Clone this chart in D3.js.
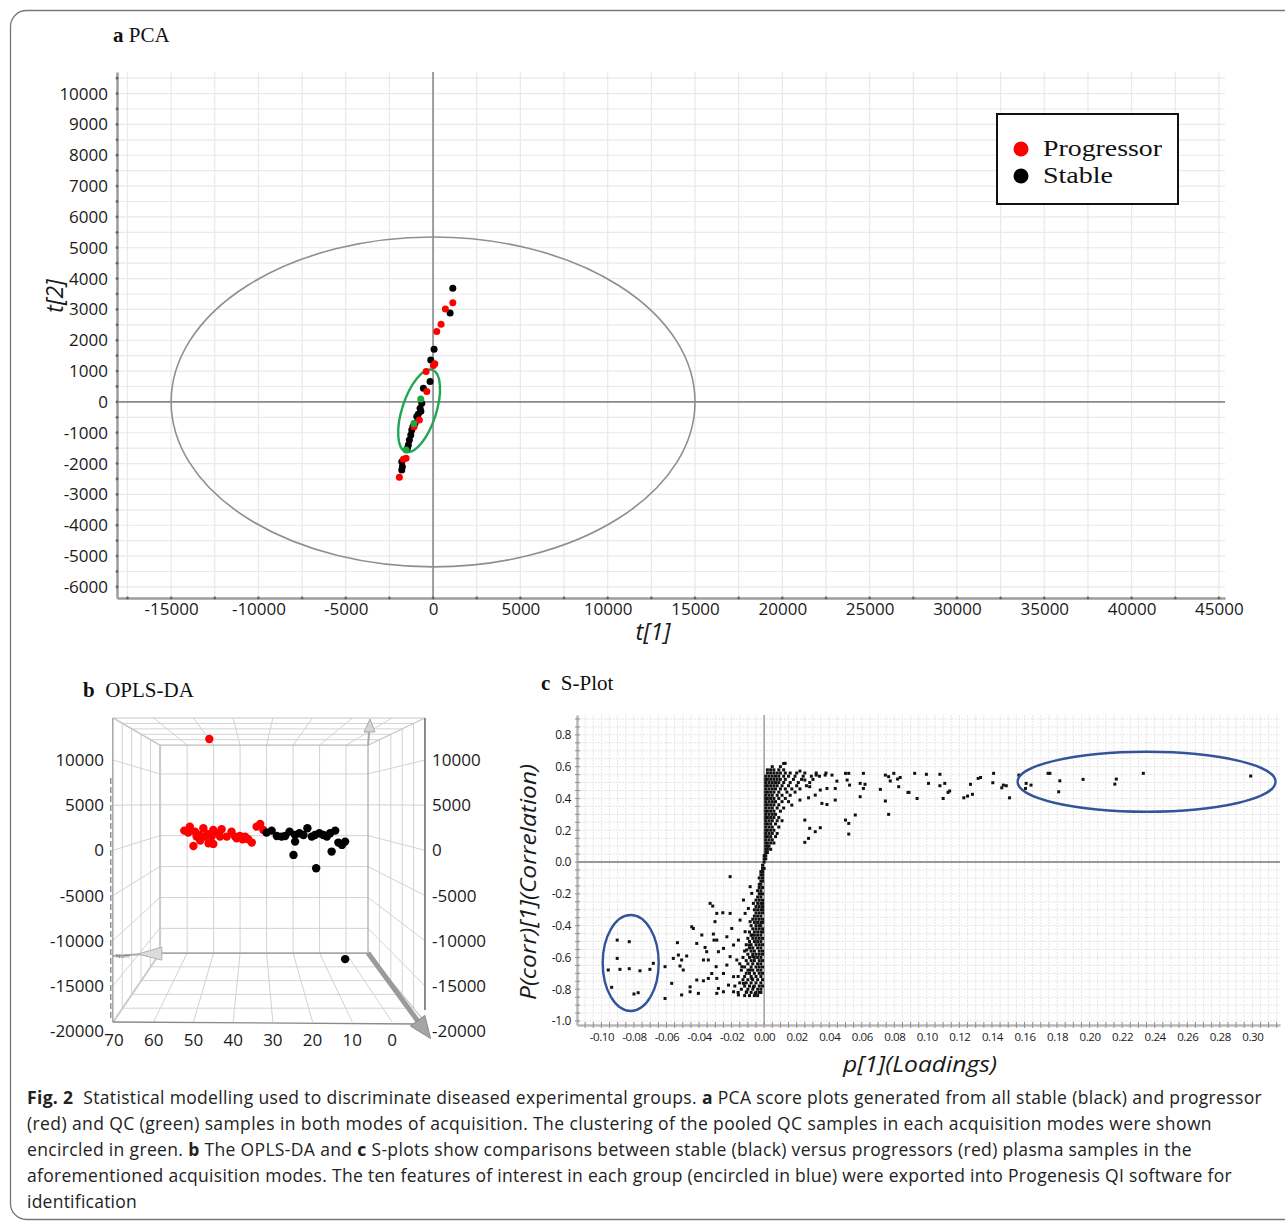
<!DOCTYPE html>
<html>
<head>
<meta charset="utf-8">
<script src="https://cdn.jsdelivr.net/npm/d3@7"></script>
<style>
  body { margin: 0; background: #fff; }
  svg { display: block; }
</style>
</head>
<body>
<div id="fig"></div>
<script>

// ---------------- data : panel a (PCA scores, t[1] / t[2])
const pcaXTicks = [-15000, -10000, -5000, 0, 5000, 10000, 15000, 20000, 25000, 30000, 35000, 40000, 45000];
const pcaYTicks = [-6000, -5000, -4000, -3000, -2000, -1000, 0, 1000, 2000, 3000, 4000, 5000, 6000, 7000, 8000, 9000, 10000];
const pcaStable = [[1130,3690],[975,2880],[57,1710],[-132,1360],[-172,660],[-555,445],[-647,-42],[-745,-205],
  [-700,-300],[-850,-400],[-934,-477],[-1031,-692],[-1150,-800],[-1220,-909],[-1277,-1071],[-1357,-1234],
  [-1415,-1396],[-1472,-1503],[-1793,-1938],[-1758,-2100],[-1793,-2208]];
const pcaProgressor = [[1130,3220],[705,3010],[458,2520],[212,2280],[100,1240],[17,1180],[-400,985],[-360,335],
  [-785,-585],[-1088,-802],[-1701,-1860],[-1546,-1828],[-1930,-2445]];
const pcaQC = [[-705,97],[-1100,-700],[-1546,-1558]];
const pcaHotelling = [15000, 5350];          // semi axes of the T2 ellipse
const qcCentre = [-800, -290];               // centre of the green QC ellipse
const legendItems = [["Progressor", "#ff0000"], ["Stable", "#000000"]];

// ---------------- data : panel b (OPLS-DA 3D view)
const oplsXTicks = [70, 60, 50, 40, 30, 20, 10, 0];
const oplsYTicks = [10000, 5000, 0, -5000, -10000, -15000, -20000];
const oplsProgressor = [[52.3,2183],[50.9,2626],[49.6,2072],[48.5,1705],[47.5,2443],[46.5,1816],[45.0,2258],
  [43.7,1889],[42.9,2332],[41.6,1521],[40.4,2072],[39.1,1336],[38.3,1594],[37.0,1521],[36.2,1226],[35.3,857],
  [34.1,2626],[33.2,2922],[32.4,2258],[50.0,488],[48.3,1078],[46.2,783],[45.0,710],[47.1,1521],[43.3,1521],
  [39.5,1521],[37.6,1226],[51.3,1963],[49.2,1521],[45.4,1521],[46.0,12320]];
const oplsStable = [[31.6,1963],[30.3,2183],[29.0,1594],[27.8,1521],[26.9,1594],[25.8,2072],[24.4,1705],
  [23.3,1889],[22.3,1705],[21.3,2443],[20.2,1521],[19.4,1705],[18.3,1889],[17.3,1705],[16.4,1521],[15.6,1889],
  [14.3,2183],[13.5,857],[12.6,599],[11.8,967],[24.8,-507],[24.4,967],[19.1,-1982],[15.2,-138],[11.8,-12045]];

// ---------------- data : panel c (S-plot, p[1] / p(corr)[1])
const sXTicks = [-0.10,-0.08,-0.06,-0.04,-0.02,0.00,0.02,0.04,0.06,0.08,0.10,0.12,0.14,0.16,0.18,0.20,0.22,0.24,0.26,0.28,0.30];
const sYTicks = [-1.0,-0.8,-0.6,-0.4,-0.2,0.0,0.2,0.4,0.6,0.8];
const sSparse = [
  [0.0129,0.621],[0.022,0.572],[0.025,0.516],[0.028,0.474],[0.032,0.547],[0.0375,0.547],[0.0417,0.547],[0.0447,0.509],
  [0.050,0.558],[0.052,0.558],[0.051,0.516],[0.0525,0.484],[0.0437,0.463],[0.0386,0.463],[0.0345,0.453],[0.0314,0.421],
  [0.0273,0.404],[0.022,0.390],[0.017,0.358],[0.0355,0.369],[0.0386,0.362],[0.0437,0.390],[0.061,0.558],[0.059,0.495],
  [0.062,0.489],[0.061,0.463],[0.059,0.411],[0.0714,0.457],[0.0745,0.547],[0.0765,0.537],[0.0775,0.510],[0.082,0.522],
  [0.0827,0.474],[0.0745,0.384],[0.0765,0.300],[0.025,0.264],[0.028,0.212],[0.0345,0.216],[0.0314,0.191],[0.025,0.124],
  [0.0273,0.149],[0.050,0.264],[0.052,0.243],[0.056,0.296],[0.052,0.176],[0.0884,0.438],[0.0925,0.558],[0.094,0.400],
  [0.0997,0.552],[0.101,0.495],[0.108,0.552],[0.108,0.480],[0.111,0.495],[0.114,0.447],[0.113,0.438],[0.110,0.400],
  [0.1227,0.404],[0.1268,0.489],[0.128,0.426],[0.1315,0.526],[0.141,0.558],[0.1405,0.499],[0.146,0.467],[0.1488,0.480],
  [0.1508,0.404],[0.1565,0.547],[0.161,0.495],[0.1606,0.463],[0.164,0.484],[0.1745,0.558],[0.1756,0.558],[0.1817,0.511],
  [0.181,0.442],[0.196,0.520],[0.2155,0.490],[0.2164,0.522],[0.233,0.558],[0.299,0.541],[0.147,0.484],[0.133,0.532],
  [0.125,0.415],[0.0797,0.558],[0.0836,0.532],[0.089,0.438],
  [-0.0903,-0.491],[-0.0829,-0.501],[-0.0903,-0.606],[-0.0958,-0.679],[-0.0886,-0.675],[-0.0829,-0.671],[-0.0763,-0.684],
  [-0.0702,-0.675],[-0.0937,-0.788],[-0.080,-0.830],[-0.0774,-0.822],[-0.0681,-0.637],[-0.0609,-0.658],[-0.0568,-0.763],
  [-0.0609,-0.858],[-0.0533,-0.507],[-0.0558,-0.606],[-0.0527,-0.585],[-0.0507,-0.616],[-0.0476,-0.591],[-0.0517,-0.654],
  [-0.0497,-0.679],[-0.0455,-0.785],[-0.0507,-0.836],[-0.0445,-0.407],[-0.0435,-0.418],[-0.0414,-0.512],[-0.0383,-0.459],
  [-0.0363,-0.537],[-0.0353,-0.564],[-0.0373,-0.616],[-0.0343,-0.616],[-0.0414,-0.742],[-0.0373,-0.747],[-0.0343,-0.732],
  [-0.0404,-0.826],[-0.0455,-0.816],[-0.0332,-0.260],[-0.0316,-0.277],[-0.0302,-0.375],[-0.0291,-0.323],[-0.0254,-0.319],
  [-0.0312,-0.453],[-0.0308,-0.491],[-0.0291,-0.491],[-0.0281,-0.564],[-0.0295,-0.658],[-0.0322,-0.701],[-0.0291,-0.732],
  [-0.0281,-0.795],[-0.0291,-0.826],[-0.025,-0.816],[-0.025,-0.543],[-0.0229,-0.470],[-0.0209,-0.092],[-0.0209,-0.323],
  [-0.0199,-0.418],[-0.0188,-0.522],[-0.0209,-0.595],[-0.0229,-0.648],[-0.025,-0.701],[-0.0188,-0.721],[-0.0219,-0.774],
  [-0.0188,-0.816],[-0.0158,-0.836],[-0.0168,-0.616],[-0.0158,-0.491],[-0.0148,-0.365],[-0.0127,-0.239],[-0.0117,-0.323],
  [-0.0117,-0.438],[-0.0107,-0.553],[-0.0137,-0.658],[-0.0127,-0.763],[-0.0107,-0.816],[-0.0086,-0.155],[-0.0076,-0.197],
  [-0.0066,-0.260],[-0.0097,-0.292],[-0.0086,-0.375],[-0.0076,-0.459],[-0.0091,-0.522],[-0.007,-0.595],[-0.0086,-0.679],
  [-0.0076,-0.732],[-0.0066,-0.785],[-0.0055,-0.826]
];
// dense core of the S, read row by row: [p(corr), [p values]]
const sDenseRows = [
  [-0.84,[-0.012,-0.009,-0.006,-0.004]],
  [-0.82,[-0.016,-0.011,-0.008,-0.005,-0.003,-0.002]],
  [-0.80,[-0.014,-0.010,-0.007,-0.004,-0.002]],
  [-0.78,[-0.018,-0.012,-0.009,-0.006,-0.003,-0.001]],
  [-0.76,[-0.015,-0.011,-0.008,-0.005,-0.002]],
  [-0.74,[-0.013,-0.010,-0.007,-0.004,-0.001]],
  [-0.72,[-0.016,-0.012,-0.008,-0.005,-0.002]],
  [-0.70,[-0.011,-0.009,-0.006,-0.003,-0.001]],
  [-0.68,[-0.014,-0.010,-0.007,-0.004,-0.002]],
  [-0.66,[-0.012,-0.008,-0.005,-0.003,-0.001]],
  [-0.64,[-0.015,-0.010,-0.007,-0.004,-0.002]],
  [-0.62,[-0.011,-0.008,-0.006,-0.003,-0.001]],
  [-0.60,[-0.013,-0.009,-0.006,-0.004,-0.002]],
  [-0.58,[-0.010,-0.007,-0.005,-0.003,-0.001]],
  [-0.56,[-0.012,-0.008,-0.006,-0.003,-0.001]],
  [-0.54,[-0.009,-0.007,-0.004,-0.002]],
  [-0.52,[-0.011,-0.008,-0.005,-0.003,-0.001]],
  [-0.50,[-0.009,-0.006,-0.004,-0.002]],
  [-0.48,[-0.010,-0.007,-0.005,-0.003,-0.001]],
  [-0.46,[-0.008,-0.006,-0.004,-0.002]],
  [-0.44,[-0.009,-0.006,-0.004,-0.002,-0.001]],
  [-0.42,[-0.007,-0.005,-0.003,-0.001]],
  [-0.40,[-0.008,-0.005,-0.003,-0.002]],
  [-0.38,[-0.006,-0.004,-0.002,-0.001]],
  [-0.36,[-0.007,-0.005,-0.003,-0.001]],
  [-0.34,[-0.006,-0.004,-0.002]],
  [-0.32,[-0.005,-0.003,-0.001]],
  [-0.30,[-0.006,-0.004,-0.002,-0.001]],
  [-0.28,[-0.005,-0.003,-0.001]],
  [-0.26,[-0.004,-0.002,-0.001]],
  [-0.24,[-0.005,-0.003,-0.001]],
  [-0.22,[-0.004,-0.002]],
  [-0.20,[-0.003,-0.002,-0.001]],
  [-0.18,[-0.004,-0.002]],
  [-0.16,[-0.003,-0.001]],
  [-0.14,[-0.003,-0.002]],
  [-0.12,[-0.002,-0.001]],
  [-0.10,[-0.003,-0.001]],
  [-0.08,[-0.002,-0.001]],
  [-0.06,[-0.002,-0.001]],
  [-0.04,[-0.001,0.000]],
  [-0.02,[-0.001]],
  [0.00,[0.000]],
  [0.02,[0.000,0.001]],
  [0.04,[0.000,0.001]],
  [0.06,[0.001,0.002]],
  [0.08,[0.001,0.002,0.004]],
  [0.10,[0.001,0.002,0.003]],
  [0.12,[0.001,0.002,0.004,0.006]],
  [0.14,[0.001,0.003,0.005]],
  [0.16,[0.001,0.002,0.004,0.007]],
  [0.18,[0.001,0.003,0.005,0.008]],
  [0.20,[0.001,0.002,0.004,0.006]],
  [0.22,[0.001,0.003,0.005,0.009]],
  [0.24,[0.001,0.002,0.004,0.007]],
  [0.26,[0.001,0.003,0.005,0.008,0.011]],
  [0.28,[0.001,0.002,0.004,0.006,0.009]],
  [0.30,[0.001,0.003,0.005,0.007]],
  [0.32,[0.001,0.002,0.004,0.006,0.010]],
  [0.34,[0.001,0.003,0.005,0.008,0.012]],
  [0.36,[0.001,0.002,0.004,0.006,0.009]],
  [0.38,[0.001,0.003,0.005,0.007,0.011,0.015]],
  [0.40,[0.001,0.002,0.004,0.006,0.009,0.013]],
  [0.42,[0.001,0.003,0.005,0.008,0.011,0.016]],
  [0.44,[0.001,0.002,0.004,0.006,0.009,0.014,0.019]],
  [0.46,[0.001,0.003,0.005,0.007,0.010,0.013,0.017,0.022]],
  [0.48,[0.001,0.002,0.004,0.006,0.008,0.011,0.015,0.020,0.026]],
  [0.50,[0.001,0.003,0.005,0.007,0.009,0.012,0.016,0.021,0.028]],
  [0.52,[0.001,0.002,0.004,0.006,0.008,0.010,0.013,0.018,0.023,0.030]],
  [0.54,[0.001,0.003,0.005,0.007,0.009,0.012,0.015,0.019,0.024,0.029,0.034]],
  [0.56,[0.002,0.004,0.006,0.008,0.010,0.013,0.016,0.020,0.025,0.032,0.038]],
  [0.58,[0.002,0.004,0.006,0.009,0.012]],
  [0.60,[0.005,0.010]],
  [0.62,[0.012]]
];
const featureRings = [[0.235, 0.505], [-0.082, -0.635]];   // centres of the blue rings

// ---------------- caption
const captionLines = [
  [["Fig. 2", 1], ["  Statistical modelling used to discriminate diseased experimental groups. ", 0], ["a", 1], [" PCA score plots generated from all stable (black) and progressor", 0]],
  [["(red) and QC (green) samples in both modes of acquisition. The clustering of the pooled QC samples in each acquisition modes were shown", 0]],
  [["encircled in green. ", 0], ["b", 1], [" The OPLS-DA and ", 0], ["c", 1], [" S-plots show comparisons between stable (black) versus progressors (red) plasma samples in the", 0]],
  [["aforementioned acquisition modes. The ten features of interest in each group (encircled in blue) were exported into Progenesis QI software for", 0]],
  [["identification", 0]]
];

const W = 1285, H = 1223;
const SANS = "'Open Sans', 'DejaVu Sans', sans-serif";
const SERIF = "'Liberation Serif', 'DejaVu Serif', serif";

const svg = d3.select("#fig").append("svg")
  .attr("width", W)
  .attr("height", H);

// outer frame of the figure
svg.append("rect")
  .attr("x", 10.5).attr("y", 10.5)
  .attr("width", 1300).attr("height", 1209)
  .attr("rx", 16)
  .attr("fill", "none")
  .attr("stroke", "#777")
  .attr("stroke-width", 1.3);

function title(x, y, letter, rest, size) {
  const t = svg.append("text").attr("x", x).attr("y", y)
    .attr("font-family", SERIF).attr("font-size", size).attr("fill", "#111")
    .style("white-space", "pre");
  t.append("tspan").attr("font-weight", "bold").text(letter);
  t.append("tspan").text(rest);
}

// =================== panel a : PCA
title(113, 42, "a", " PCA", 21);
const gA = svg.append("g");
const ax = d3.scaleLinear().domain([-18100, 45350]).range([117, 1225]);
const ay = d3.scaleLinear().domain([-6360, 10700]).range([598, 72]);

gA.selectAll("line.gx").data(d3.range(-17500, 45001, 2500)).enter().append("line")
  .attr("x1", d => ax(d)).attr("x2", d => ax(d))
  .attr("y1", ay.range()[1]).attr("y2", ay.range()[0])
  .attr("stroke", "#e9e9e9").attr("stroke-width", 1.2);
gA.selectAll("line.gy").data(d3.range(-6000, 10501, 500)).enter().append("line")
  .attr("x1", ax.range()[0]).attr("x2", ax.range()[1])
  .attr("y1", d => ay(d)).attr("y2", d => ay(d))
  .attr("stroke", "#e9e9e9").attr("stroke-width", 1.2);

// zero lines
gA.append("line").attr("x1", ax(0)).attr("x2", ax(0)).attr("y1", 72).attr("y2", 598)
  .attr("stroke", "#8a8a8a").attr("stroke-width", 1.6);
gA.append("line").attr("x1", 117).attr("x2", 1225).attr("y1", ay(0)).attr("y2", ay(0))
  .attr("stroke", "#8a8a8a").attr("stroke-width", 1.8);

// Hotelling ellipse
gA.append("ellipse")
  .attr("cx", ax(0)).attr("cy", ay(0))
  .attr("rx", ax(pcaHotelling[0]) - ax(0))
  .attr("ry", ay(0) - ay(pcaHotelling[1]))
  .attr("fill", "none").attr("stroke", "#8f8f8f").attr("stroke-width", 1.6);

function styleAxis(g, size, col) {
  g.select(".domain").attr("stroke", col).attr("stroke-width", 2.5);
  g.selectAll(".tick line").remove();
  g.selectAll("text").attr("font-family", SANS).attr("font-size", size).attr("fill", "#1a1a1a");
}
const fmtInt = d => String(d);
gA.append("g").attr("transform", "translate(117,0)")
  .call(d3.axisLeft(ay).tickValues(pcaYTicks).tickFormat(fmtInt).tickSize(0).tickPadding(9))
  .call(g => styleAxis(g, 17, "#9c9c9c"));
gA.append("g").attr("transform", "translate(0,598)")
  .call(d3.axisBottom(ax).tickValues(pcaXTicks).tickFormat(fmtInt).tickSize(0).tickPadding(5))
  .call(g => styleAxis(g, 17, "#9c9c9c"));
// tick dots on the axes
gA.selectAll("circle.ty").data(d3.range(-6000, 10501, 500)).enter().append("circle")
  .attr("cx", 117).attr("cy", d => ay(d)).attr("r", 1.4).attr("fill", "#666");
gA.selectAll("circle.tx").data(d3.range(-17500, 45001, 2500)).enter().append("circle")
  .attr("cx", d => ax(d)).attr("cy", 598).attr("r", 1.4).attr("fill", "#666");

gA.append("text").attr("x", 653).attr("y", 640).attr("text-anchor", "middle")
  .attr("font-family", SANS).attr("font-style", "italic").attr("font-size", 24).attr("fill", "#1a1a1a")
  .text("t[1]");
gA.append("text").attr("transform", "translate(63,296) rotate(-90)").attr("text-anchor", "middle")
  .attr("font-family", SANS).attr("font-style", "italic").attr("font-size", 23).attr("fill", "#1a1a1a")
  .text("t[2]");

// green QC ring
gA.append("ellipse")
  .attr("transform", `translate(${ax(qcCentre[0])},${ay(qcCentre[1])}) rotate(18)`)
  .attr("rx", 17).attr("ry", 43)
  .attr("fill", "none").attr("stroke", "#1fa756").attr("stroke-width", 2.4);

function dots(g, data, xs, ys, col, r) {
  g.selectAll(null).data(data).enter().append("circle")
    .attr("cx", d => xs(d[0])).attr("cy", d => ys(d[1]))
    .attr("r", r).attr("fill", col);
}
dots(gA, pcaStable, ax, ay, "#000", 3.5);
dots(gA, pcaProgressor, ax, ay, "#ff0000", 3.5);
dots(gA, pcaQC, ax, ay, "#1fa746", 3.5);

// legend
const lg = gA.append("g");
lg.append("rect").attr("x", 997).attr("y", 114).attr("width", 181).attr("height", 90)
  .attr("fill", "#fff").attr("stroke", "#111").attr("stroke-width", 2);
const legendWidths = [119, 70];
legendItems.forEach((d, i) => {
  lg.append("circle").attr("cx", 1021).attr("cy", 149 + i * 27).attr("r", 7.5).attr("fill", d[1]);
  lg.append("text").attr("x", 1043).attr("y", 156 + i * 27)
    .attr("font-family", SERIF).attr("font-size", 24).attr("fill", "#111")
    .attr("textLength", legendWidths[i]).attr("lengthAdjust", "spacingAndGlyphs")
    .text(d[0]);
});

// =================== panel b : OPLS-DA box
title(83, 697, "b", "  OPLS-DA", 21);
const gB = svg.append("g");
const bx = d3.scaleLinear().domain([70, 0]).range([114, 392]);
const by = d3.scaleLinear().domain([10000, -20000]).range([760, 1031]);
const fx0 = bx(70.3), fx1 = bx(-8.3), fy0 = by(14650), fy1 = by(-19000);
const vp = [254, 804], kx = 0.667, ky = 0.684;
function proj(px, py, t) {
  return [vp[0] + (1 - t * (1 - kx)) * (px - vp[0]), vp[1] + (1 - t * (1 - ky)) * (py - vp[1])];
}
function seg(a, b, col, w, dash) {
  const l = gB.append("line").attr("x1", a[0]).attr("y1", a[1]).attr("x2", b[0]).attr("y2", b[1])
    .attr("stroke", col).attr("stroke-width", w);
  if (dash) l.attr("stroke-dasharray", dash);
  return l;
}
const gridCol = "#d2d2d2";
const depths = [0.2, 0.4, 0.6, 0.8];
const inY = oplsYTicks.filter(v => by(v) > fy0 && by(v) < fy1);
// back wall
oplsXTicks.forEach(v => seg(proj(bx(v), fy0, 1), proj(bx(v), fy1, 1), gridCol, 1));
inY.forEach(v => seg(proj(fx0, by(v), 1), proj(fx1, by(v), 1), gridCol, 1));
// floor and ceiling
oplsXTicks.forEach(v => {
  seg(proj(bx(v), fy1, 1), proj(bx(v), fy1, 0), gridCol, 1);
  seg(proj(bx(v), fy0, 1), proj(bx(v), fy0, 0), gridCol, 1);
});
depths.forEach(t => {
  seg(proj(fx0, fy1, t), proj(fx1, fy1, t), gridCol, 1);
  seg(proj(fx0, fy0, t), proj(fx1, fy0, t), gridCol, 1);
  seg(proj(fx0, fy0, t), proj(fx0, fy1, t), gridCol, 1);
  seg(proj(fx1, fy0, t), proj(fx1, fy1, t), gridCol, 1);
});
// side walls
inY.forEach(v => {
  seg(proj(fx0, by(v), 1), proj(fx0, by(v), 0), gridCol, 1);
  seg(proj(fx1, by(v), 1), proj(fx1, by(v), 0), gridCol, 1);
});
// box edges
[[fx0, fy0], [fx1, fy0], [fx0, fy1], [fx1, fy1]].forEach(c => seg(proj(c[0], c[1], 1), proj(c[0], c[1], 0), "#c4c4c4", 1.2));
seg(proj(fx0, fy0, 1), proj(fx1, fy0, 1), "#bdbdbd", 1.2);
seg(proj(fx0, fy1, 1), proj(fx1, fy1, 1), "#a8a8a8", 1.6);
seg(proj(fx0, fy0, 1), proj(fx0, fy1, 1), "#bdbdbd", 1.2);
seg(proj(fx1, fy0, 1), proj(fx1, fy1, 1), "#b5b5b5", 1.4);
seg([fx0, fy0], [fx1, fy0], "#c8c8c8", 1.2);
seg([fx0, fy0], [fx0, fy1], "#9a9a9a", 1.3);
seg([fx1, fy0], [fx1, fy1 - 12], "#6f6f6f", 1.6);
seg([fx0, fy1], [fx1 - 8, fy1 + 2], "#8a8a8a", 1.4);
seg([fx0 - 2, by(8000)], [fx0 - 2, fy1 - 2], "#777", 1.2, "6,3");

// arrows of the 3D axes
const cBR = proj(fx1, fy1, 1), tipBR = [fx1 - 5, fy1 + 2];
seg(cBR, tipBR, "#9a9a9a", 5);
(function () {
  const dx = tipBR[0] - cBR[0], dy = tipBR[1] - cBR[1], n = Math.hypot(dx, dy);
  const ux = dx / n, uy = dy / n, L = 22, Wd = 9;
  const b = [tipBR[0] - ux * 4, tipBR[1] - uy * 4];
  const tip = [b[0] + ux * L, b[1] + uy * L];
  gB.append("path")
    .attr("d", `M${b[0] - uy * Wd},${b[1] + ux * Wd} L${tip[0]},${tip[1]} L${b[0] + uy * Wd},${b[1] - ux * Wd} Z`)
    .attr("fill", "#a5a5a5").attr("stroke", "#8a8a8a").attr("stroke-width", 1);
})();
const cBL = proj(fx0, fy1, 1);
seg(cBL, [fx0, cBL[1] + 3], "#aaa", 2);
gB.append("path").attr("d", `M${cBL[0] + 2},${cBL[1] - 6} L${cBL[0] - 22},${cBL[1] + 1} L${cBL[0] + 2},${cBL[1] + 7} Z`)
  .attr("fill", "#dcdcdc").attr("stroke", "#b0b0b0").attr("stroke-width", 1);
gB.append("text").attr("x", fx0 + 3).attr("y", cBL[1] + 5).attr("font-family", SANS).attr("font-size", 6)
  .attr("fill", "#666").text("Num");
const cTR = proj(fx1, fy0, 1);
seg(cTR, [cTR[0] + 2, fy0 + 2], "#aaa", 2);
gB.append("path").attr("d", `M${cTR[0] - 4},${fy0 + 14} L${cTR[0] + 2},${fy0 + 1} L${cTR[0] + 7},${fy0 + 14} Z`)
  .attr("fill", "#d6d6d6").attr("stroke", "#aaa").attr("stroke-width", 1);

// tick labels
gB.selectAll("text.yl").data(oplsYTicks).enter().append("text")
  .attr("x", 104).attr("y", d => by(d) + 6).attr("text-anchor", "end")
  .attr("font-family", SANS).attr("font-size", 17).attr("fill", "#1a1a1a").text(fmtInt);
gB.selectAll("text.yr").data(oplsYTicks).enter().append("text")
  .attr("x", 432).attr("y", d => by(d) + 6).attr("text-anchor", "start")
  .attr("font-family", SANS).attr("font-size", 17).attr("fill", "#1a1a1a").text(fmtInt);
gB.selectAll("text.xl").data(oplsXTicks).enter().append("text")
  .attr("x", d => bx(d)).attr("y", 1046).attr("text-anchor", "middle")
  .attr("font-family", SANS).attr("font-size", 17).attr("fill", "#1a1a1a").text(fmtInt);

dots(gB, oplsProgressor, bx, by, "#ff0000", 4.2);
dots(gB, oplsStable, bx, by, "#000", 4.2);

// =================== panel c : S-plot
title(541, 690, "c", "  S-Plot", 21);
const gC = svg.append("g");
const sx = d3.scaleLinear().domain([-0.115, 0.317]).range([577, 1280]);
const sy = d3.scaleLinear().domain([-1.025, 0.925]).range([1025, 715]);

gC.selectAll("line.gx").data(d3.range(-110, 316, 5)).enter().append("line")
  .attr("x1", d => sx(d / 1000)).attr("x2", d => sx(d / 1000))
  .attr("y1", 715).attr("y2", 1025)
  .attr("stroke", "#e6e6e6").attr("stroke-width", 1).attr("stroke-dasharray", "2,1");
gC.selectAll("line.gy").data(d3.range(-100, 91, 5)).enter().append("line")
  .attr("x1", 577).attr("x2", 1280)
  .attr("y1", d => sy(d / 100)).attr("y2", d => sy(d / 100))
  .attr("stroke", "#e6e6e6").attr("stroke-width", 1).attr("stroke-dasharray", "2,1");

gC.append("line").attr("x1", sx(0)).attr("x2", sx(0)).attr("y1", 715).attr("y2", 1025)
  .attr("stroke", "#9a9a9a").attr("stroke-width", 1.4);
gC.append("line").attr("x1", 577).attr("x2", 1280).attr("y1", sy(0)).attr("y2", sy(0))
  .attr("stroke", "#9a9a9a").attr("stroke-width", 2);

gC.append("g").attr("transform", "translate(577,0)")
  .call(d3.axisLeft(sy).tickValues(sYTicks).tickFormat(d => d.toFixed(1)).tickSize(0).tickPadding(6))
  .call(g => styleAxis(g, 12, "#b8b8b8"));
gC.append("g").attr("transform", "translate(0,1025)")
  .call(d3.axisBottom(sx).tickValues(sXTicks).tickFormat(d => d.toFixed(2)).tickSize(0).tickPadding(8))
  .call(g => styleAxis(g, 11.5, "#b8b8b8"));
gC.selectAll("g.tick text").attr("letter-spacing", -0.4);
// minor tick marks along the axes
gC.selectAll("line.my").data(d3.range(-100, 91, 5)).enter().append("line")
  .attr("x1", 575).attr("x2", 580).attr("y1", d => sy(d / 100)).attr("y2", d => sy(d / 100))
  .attr("stroke", "#8f8f8f").attr("stroke-width", 1);
gC.selectAll("line.mx").data(d3.range(-110, 316, 5)).enter().append("line")
  .attr("y1", 1022).attr("y2", 1028).attr("x1", d => sx(d / 1000)).attr("x2", d => sx(d / 1000))
  .attr("stroke", "#8f8f8f").attr("stroke-width", 1);

const sAll = sSparse.concat(...sDenseRows.map(r => r[1].map(x => [x, r[0]])));
gC.selectAll("rect.pt").data(sAll).enter().append("rect")
  .attr("x", d => sx(d[0]) - 1.5).attr("y", d => sy(d[1]) - 1.5)
  .attr("width", 3).attr("height", 3).attr("fill", "#111");

gC.append("ellipse").attr("cx", sx(featureRings[0][0])).attr("cy", sy(featureRings[0][1]))
  .attr("rx", 129).attr("ry", 30)
  .attr("fill", "none").attr("stroke", "#34549a").attr("stroke-width", 2.4);
gC.append("ellipse").attr("cx", sx(featureRings[1][0])).attr("cy", sy(featureRings[1][1]))
  .attr("rx", 28).attr("ry", 48)
  .attr("fill", "none").attr("stroke", "#34549a").attr("stroke-width", 2.4);

gC.append("text").attr("x", 920).attr("y", 1072).attr("text-anchor", "middle")
  .attr("font-family", SANS).attr("font-style", "italic").attr("font-size", 22).attr("fill", "#1a1a1a")
  .attr("textLength", 154).attr("lengthAdjust", "spacingAndGlyphs")
  .text("p[1](Loadings)");
gC.append("text").attr("transform", "translate(536,882) rotate(-90)").attr("text-anchor", "middle")
  .attr("font-family", SANS).attr("font-style", "italic").attr("font-size", 22).attr("fill", "#1a1a1a")
  .attr("textLength", 236).attr("lengthAdjust", "spacingAndGlyphs")
  .text("P(corr)[1](Correlation)");

// =================== caption
// each line is fitted to its width in the reference by letter-spacing
const capWidths = [1235, 1185, 1165, 1205, 110];
captionLines.forEach((line, i) => {
  const t = svg.append("text")
    .attr("x", 27).attr("y", 1104 + i * 26)
    .attr("font-family", SANS).attr("font-size", 17.5).attr("fill", "#222")
    .style("white-space", "pre");
  line.forEach(p => t.append("tspan").attr("font-weight", p[1] ? "bold" : "normal").text(p[0]));
  const natural = t.node().getComputedTextLength();
  const n = line.reduce((s, p) => s + p[0].length, 0);
  t.attr("letter-spacing", (capWidths[i] - natural) / n);
});

</script>
</body>
</html>
